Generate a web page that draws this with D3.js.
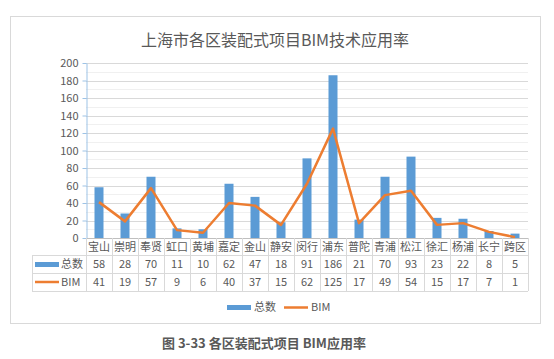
<!DOCTYPE html>
<html>
<head>
<meta charset="utf-8">
<script src="https://cdn.jsdelivr.net/npm/d3@7"></script>
<style>
  body { margin: 0; background: #fff; }
  svg { display: block; }
  text { font-family: "Noto Sans CJK SC", "Open Sans", sans-serif; fill: #595959; }
</style>
</head>
<body>
<svg id="chart" width="554" height="359"></svg>
<script>
const districts = ["宝山", "崇明", "奉贤", "虹口", "黄埔", "嘉定", "金山", "静安", "闵行",
  "浦东", "普陀", "青浦", "松江", "徐汇", "杨浦", "长宁", "跨区"];
const totals = [58, 28, 70, 11, 10, 62, 47, 18, 91, 186, 21, 70, 93, 23, 22, 8, 5];
const bimCounts = [41, 19, 57, 9, 6, 40, 37, 15, 62, 125, 17, 49, 54, 15, 17, 7, 1];
const yTicks = [0, 20, 40, 60, 80, 100, 120, 140, 160, 180, 200];
const seriesNames = ["总数", "BIM"];

const blue = "#5b9bd5", orange = "#ed7d31", grid = "#d9d9d9";

let svg = d3.select("svg#chart");

// chart frame
svg.append("rect")
  .attr("x", 10.5).attr("y", 16.5)
  .attr("width", 530).attr("height", 307)
  .attr("fill", "#fff").attr("stroke", grid);

svg.append("text")
  .attr("x", 275).attr("y", 46)
  .attr("text-anchor", "middle")
  .attr("font-size", 16)
  .text("上海市各区装配式项目BIM技术应用率");

let x = d3.scaleBand().domain(districts).range([86, 528]);
let y = d3.scaleLinear().domain([0, 200]).range([238, 63]);

// minor + major gridlines
svg.append("g").selectAll("line")
  .data(d3.range(10, 200, 20))
  .join("line")
  .attr("x1", 86).attr("x2", 528)
  .attr("y1", d => Math.round(y(d)) + 0.5).attr("y2", d => Math.round(y(d)) + 0.5)
  .attr("stroke", "#f0f0f0");

svg.append("g").selectAll("line")
  .data(yTicks.slice(1))
  .join("line")
  .attr("x1", 86).attr("x2", 528)
  .attr("y1", d => Math.round(y(d)) + 0.5).attr("y2", d => Math.round(y(d)) + 0.5)
  .attr("stroke", grid);

// bars
let barW = 9;
svg.append("g").selectAll("rect")
  .data(totals)
  .join("rect")
  .attr("x", (d, i) => x(districts[i]) + x.bandwidth() / 2 - barW / 2)
  .attr("y", d => y(d))
  .attr("width", barW)
  .attr("height", d => y(0) - y(d))
  .attr("fill", blue);

// BIM line
let line = d3.line()
  .x((d, i) => x(districts[i]) + x.bandwidth() / 2)
  .y(d => y(d));

svg.append("path")
  .datum(bimCounts)
  .attr("d", line)
  .attr("fill", "none")
  .attr("stroke", orange)
  .attr("stroke-width", 2.5)
  .attr("stroke-linejoin", "round");

// y axis
let yAxis = d3.axisLeft(y).tickValues(yTicks).tickSize(4).tickSizeOuter(0);
let ya = svg.append("g")
  .attr("transform", "translate(86.5,0)")
  .call(yAxis);
ya.select(".domain").attr("stroke", "#9dc3e6");
ya.selectAll(".tick line").attr("stroke", "#9dc3e6");
ya.selectAll(".tick text")
  .attr("font-family", "'Open Sans', sans-serif")
  .attr("font-size", 11)
  .attr("fill", "#595959")
  .attr("x", -8);

// data table
let rowTop = [238, 255, 273, 291];
let tbl = svg.append("g");

// horizontal lines
tbl.selectAll("line.h")
  .data(rowTop)
  .join("line")
  .attr("class", "h")
  .attr("x1", (d, i) => i === 0 ? 86 : 32)
  .attr("x2", 528)
  .attr("y1", d => d + 0.5).attr("y2", d => d + 0.5)
  .attr("stroke", (d, i) => i === 0 ? "#bfbfbf" : grid);

// vertical lines
let colEdges = districts.map(d => x(d)).concat([x.range()[1]]);
tbl.selectAll("line.v")
  .data(colEdges)
  .join("line")
  .attr("class", "v")
  .attr("x1", d => Math.round(d) + 0.5).attr("x2", d => Math.round(d) + 0.5)
  .attr("y1", rowTop[0]).attr("y2", rowTop[3])
  .attr("stroke", grid);

tbl.append("line")
  .attr("x1", 32.5).attr("x2", 32.5)
  .attr("y1", rowTop[1]).attr("y2", rowTop[3])
  .attr("stroke", grid);

// category labels
tbl.selectAll("text.cat")
  .data(districts)
  .join("text")
  .attr("class", "cat")
  .attr("x", d => x(d) + x.bandwidth() / 2)
  .attr("y", 251)
  .attr("text-anchor", "middle")
  .attr("font-size", 11)
  .text(d => d);

[totals, bimCounts].forEach((vals, r) => {
  tbl.selectAll("text.v" + r)
    .data(vals)
    .join("text")
    .attr("class", "v" + r)
    .attr("x", (d, i) => x(districts[i]) + x.bandwidth() / 2)
    .attr("y", rowTop[r + 1] + 13)
    .attr("text-anchor", "middle")
    .attr("font-family", "'Open Sans', sans-serif")
    .attr("font-size", 11)
    .text(d => d);
});

// legend keys inside table
tbl.append("rect")
  .attr("x", 35).attr("y", 262).attr("width", 24).attr("height", 5)
  .attr("fill", blue);
tbl.append("text")
  .attr("x", 61).attr("y", 268).attr("font-size", 11).text(seriesNames[0]);
tbl.append("line")
  .attr("x1", 35).attr("x2", 59).attr("y1", 282).attr("y2", 282)
  .attr("stroke", orange).attr("stroke-width", 2.5);
tbl.append("text")
  .attr("x", 61).attr("y", 286).attr("font-family", "'Open Sans', sans-serif")
  .attr("font-size", 11).text(seriesNames[1]);

// bottom legend
let lg = svg.append("g");
lg.append("rect")
  .attr("x", 227).attr("y", 305).attr("width", 24).attr("height", 5)
  .attr("fill", blue);
lg.append("text")
  .attr("x", 254).attr("y", 311).attr("font-size", 11).text(seriesNames[0]);
lg.append("line")
  .attr("x1", 284).attr("x2", 308).attr("y1", 307.5).attr("y2", 307.5)
  .attr("stroke", orange).attr("stroke-width", 2.5);
lg.append("text")
  .attr("x", 311).attr("y", 311).attr("font-family", "'Open Sans', sans-serif")
  .attr("font-size", 11).text(seriesNames[1]);

// figure caption
svg.append("text")
  .attr("x", 162).attr("y", 348)
  .attr("font-family", "'Liberation Serif', 'Noto Sans CJK SC', serif")
  .attr("font-weight", "bold")
  .attr("font-size", 13)
  .attr("fill", "#111")
  .text("图 3-33  各区装配式项目 BIM应用率");
</script>
</body>
</html>
